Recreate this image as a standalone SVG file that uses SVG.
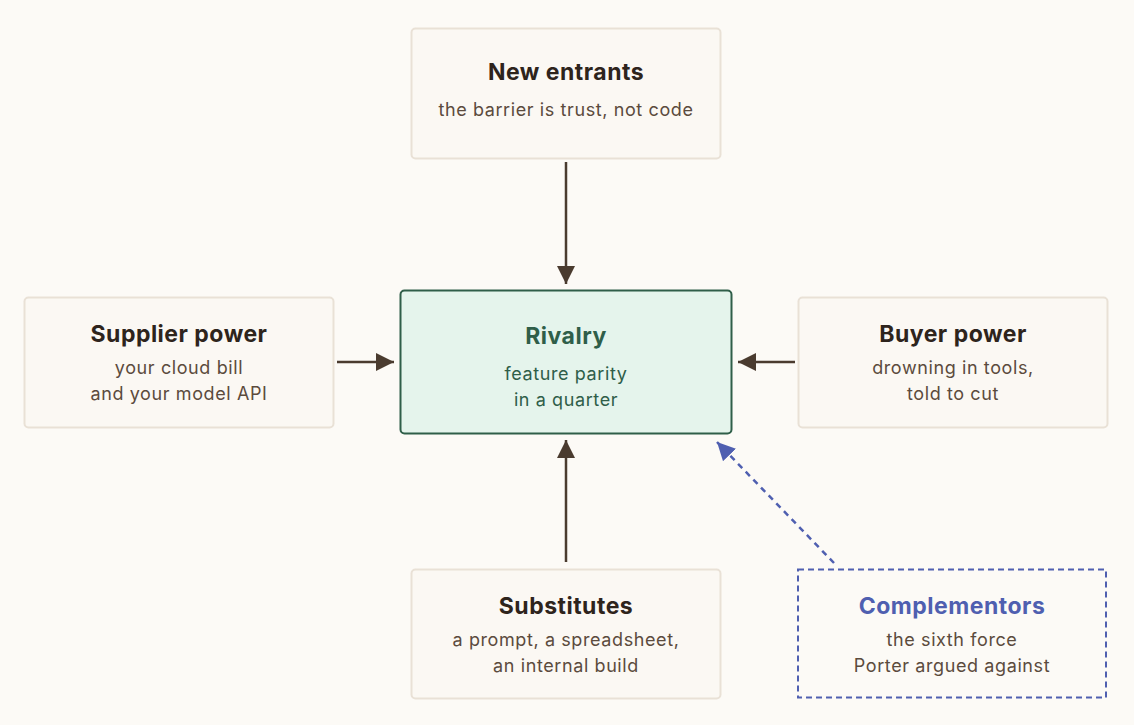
<svg xmlns="http://www.w3.org/2000/svg" width="1134" height="725" viewBox="0 0 1134 725">
<defs>
<style>
.box{fill:#fbf8f3;stroke:#e9e1d6;stroke-width:2}
.t{font-family:Inter,"Liberation Sans",sans-serif;font-weight:700;font-size:23px;letter-spacing:0.5px;fill:#2e241c;text-anchor:middle}
.s{font-family:Inter,"Liberation Sans",sans-serif;font-size:18px;letter-spacing:0.6px;fill:#5b4b3d;text-anchor:middle}
.edge{stroke:#4a3b2f;stroke-width:2.5;fill:none}
</style>
<marker id="ah" viewBox="0 0 18 18" refX="18" refY="9" markerWidth="18" markerHeight="18" markerUnits="userSpaceOnUse" orient="auto"><path d="M0,0 L18,9 L0,18 z" fill="#4a3b2f"/></marker>
<marker id="ahb" viewBox="0 0 18 18" refX="18" refY="9" markerWidth="18" markerHeight="18" markerUnits="userSpaceOnUse" orient="auto"><path d="M0,0 L18,9 L0,18 z" fill="#4f5fb0"/></marker>
</defs>
<rect width="1134" height="725" fill="#fcfaf6"/>
<g id="connectors">
<line class="edge" x1="566" y1="162" x2="566" y2="284" marker-end="url(#ah)"/>
<line class="edge" x1="337" y1="362" x2="394" y2="362" marker-end="url(#ah)"/>
<line class="edge" x1="795" y1="362" x2="738" y2="362" marker-end="url(#ah)"/>
<line class="edge" x1="566" y1="562" x2="566" y2="440" marker-end="url(#ah)"/>
<line x1="834" y1="563" x2="717" y2="442" stroke="#4f5fb0" stroke-width="2.5" stroke-dasharray="6 5" marker-end="url(#ahb)"/>
</g>
<g id="new-entrants">
<rect class="box" x="411.5" y="28.5" width="309" height="130" rx="4"/>
<text class="t" x="566" y="80">New entrants</text>
<text class="s" x="566" y="116">the barrier is trust, not code</text>
</g>
<g id="supplier-power">
<rect class="box" x="24.5" y="297.5" width="309" height="130" rx="4"/>
<text class="t" x="179" y="342">Supplier power</text>
<text class="s" x="179" y="374">your cloud bill</text>
<text class="s" x="179" y="400">and your model API</text>
</g>
<g id="rivalry">
<rect x="400.5" y="290.5" width="331" height="143" rx="4" fill="#e5f4ec" stroke="#2f5e49" stroke-width="2"/>
<text class="t" x="566" y="344" style="fill:#2f5e49">Rivalry</text>
<text class="s" x="566" y="380" style="fill:#2f5e49">feature parity</text>
<text class="s" x="566" y="406" style="fill:#2f5e49">in a quarter</text>
</g>
<g id="buyer-power">
<rect class="box" x="798.5" y="297.5" width="309" height="130" rx="4"/>
<text class="t" x="953" y="342">Buyer power</text>
<text class="s" x="953" y="374">drowning in tools,</text>
<text class="s" x="953" y="400">told to cut</text>
</g>
<g id="substitutes">
<rect class="box" x="411.5" y="569.5" width="309" height="129" rx="4"/>
<text class="t" x="566" y="614">Substitutes</text>
<text class="s" x="566" y="646">a prompt, a spreadsheet,</text>
<text class="s" x="566" y="672">an internal build</text>
</g>
<g id="complementors">
<rect x="798" y="569.5" width="308" height="128" fill="none" stroke="#4f5fb0" stroke-width="2" stroke-dasharray="6 4"/>
<text class="t" x="952" y="614" style="fill:#4f5fb0">Complementors</text>
<text class="s" x="952" y="646">the sixth force</text>
<text class="s" x="952" y="672">Porter argued against</text>
</g>
</svg>
